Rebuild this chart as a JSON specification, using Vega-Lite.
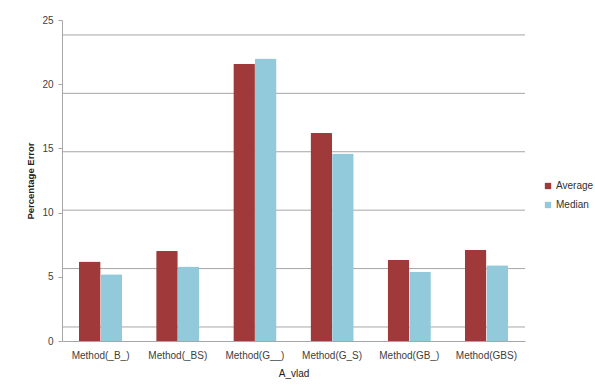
{
  "$schema": "https://vega.github.io/schema/vega-lite/v6.json",
  "width": 463,
  "height": 321,
  "autosize": {"type": "none"},
  "padding": {"left": 62, "top": 20, "right": 70, "bottom": 51},
  "background": "white",
  "config": {
    "view": {"stroke": null},
    "font": "Liberation Sans",
    "axis": {"labelColor": "#404040", "titleColor": "#202020", "domainColor": "#a6a6a6", "tickColor": "#a6a6a6"}
  },
  "resolve": {"scale": {"y": "independent"}},
  "layer": [
    {
      "data": {"values": [{"tick": 0}, {"tick": 5}, {"tick": 10}, {"tick": 15}, {"tick": 20}, {"tick": 25}]},
      "mark": {"type": "rule", "color": "#a6a6a6", "strokeWidth": 1},
      "encoding": {
        "y": {"field": "tick", "type": "quantitative", "scale": {"domain": [-1.2, 26.28], "nice": false, "zero": false}, "axis": null}
      }
    },
    {
      "data": {
        "values": [
          {"method": "Method(_B_)", "stat": "Average", "error": 6.2},
          {"method": "Method(_B_)", "stat": "Median", "error": 5.2},
          {"method": "Method(_BS)", "stat": "Average", "error": 7.0},
          {"method": "Method(_BS)", "stat": "Median", "error": 5.8},
          {"method": "Method(G__)", "stat": "Average", "error": 21.6},
          {"method": "Method(G__)", "stat": "Median", "error": 22.0},
          {"method": "Method(G_S)", "stat": "Average", "error": 16.2},
          {"method": "Method(G_S)", "stat": "Median", "error": 14.6},
          {"method": "Method(GB_)", "stat": "Average", "error": 6.3},
          {"method": "Method(GB_)", "stat": "Median", "error": 5.4},
          {"method": "Method(GBS)", "stat": "Average", "error": 7.1},
          {"method": "Method(GBS)", "stat": "Median", "error": 5.9}
        ]
      },
      "mark": {"type": "bar", "cornerRadiusTopLeft": 1, "cornerRadiusTopRight": 1},
      "encoding": {
        "x": {
          "field": "method",
          "type": "nominal",
          "sort": ["Method(_B_)", "Method(_BS)", "Method(G__)", "Method(G_S)", "Method(GB_)", "Method(GBS)"],
          "scale": {"paddingInner": 0.44, "paddingOuter": 0.22},
          "axis": {
            "title": "A_vlad",
            "titleFontSize": 10,
            "titleFontWeight": "normal",
            "titlePadding": 8,
            "labelAngle": 0,
            "labelFontSize": 10,
            "labelPadding": 9,
            "ticks": false,
            "tickSize": 0
          }
        },
        "xOffset": {"field": "stat", "type": "nominal", "sort": ["Average", "Median"], "scale": {"paddingInner": 0}},
        "y": {
          "field": "error",
          "type": "quantitative",
          "scale": {"domain": [0, 25], "nice": false},
          "axis": {
            "orient": "left",
            "title": "Percentage Error",
            "titleFontSize": 9.5,
            "titleFontWeight": "bold",
            "titlePadding": 6,
            "values": [0, 5, 10, 15, 20, 25],
            "labelFontSize": 10,
            "labelPadding": 5,
            "tickSize": 4,
            "grid": false
          }
        },
        "color": {
          "field": "stat",
          "type": "nominal",
          "scale": {"domain": ["Average", "Median"], "range": ["#a03a3a", "#92cadc"]},
          "legend": {
            "title": null,
            "orient": "none",
            "legendX": 481,
            "legendY": 161,
            "symbolType": "square",
            "symbolSize": 40,
            "symbolStrokeWidth": 0,
            "labelFontSize": 10,
            "labelColor": "#303030",
            "rowPadding": 9,
            "labelOffset": 3
          }
        }
      }
    }
  ]
}
